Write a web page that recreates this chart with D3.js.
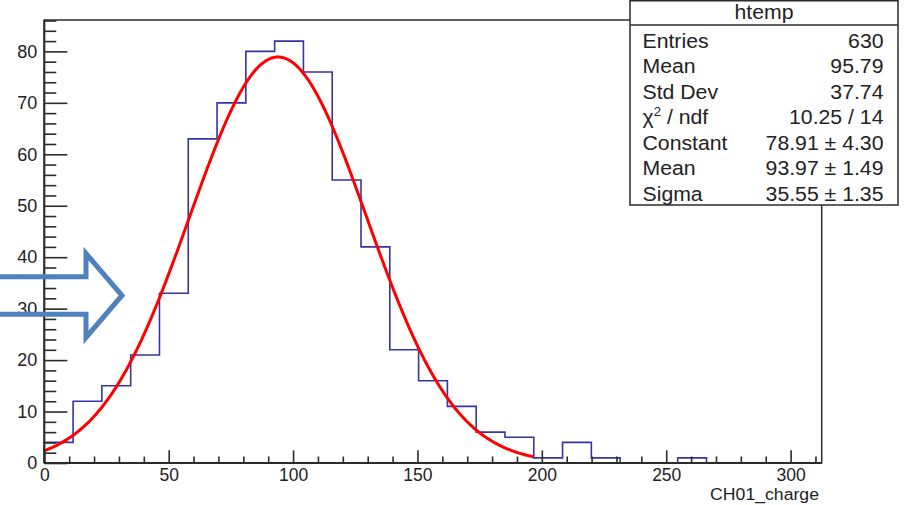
<!DOCTYPE html>
<html>
<head>
<meta charset="utf-8">
<script src="https://cdn.jsdelivr.net/npm/d3@7"></script>
<style>
  html, body { margin: 0; padding: 0; background: #fff; }
  svg { display: block; }
  text { font-family: "Liberation Sans", Arial, Helvetica, sans-serif; fill: #222; }
</style>
</head>
<body>
<svg id="chart" width="905" height="505"></svg>
<script>
// Histogram of CH01_charge: 27 equal bins over [0, 312.5]
const binLow = 0;
const binHigh = 312.5;
const binCounts = [4, 12, 15, 21, 33, 63, 70, 80, 82, 76, 55, 42, 22, 16, 11, 6, 5, 1, 4, 1, 0, 0, 1, 0, 0, 0, 0];

// Gaussian fit result (fit over the first 17 bins)
const fitConstant = 78.91;
const fitMean = 93.97;
const fitSigma = 35.55;
const fitBins = 17;

// Axis ticks
const xMajorTicks = [0, 50, 100, 150, 200, 250, 300];
const yMajorTicks = [0, 10, 20, 30, 40, 50, 60, 70, 80];
const yMax = 86.1;

// Statistics box rows
const statsTitle = "htemp";
const statsLabels = ["Entries", "Mean", "Std Dev", "χ2 / ndf", "Constant", "Mean", "Sigma"];
const statsValues = ["630", "95.79", "37.74", "10.25 / 14", "78.91 ± 4.30", "93.97 ± 1.49", "35.55 ± 1.35"];
const xTitle = "CH01_charge";

const svg = d3.select("#chart");
const frame = { left: 44.3, right: 821.7, top: 20, bottom: 463 };

const x = d3.scaleLinear().domain([binLow, binHigh]).range([frame.left, frame.right]);
const y = d3.scaleLinear().domain([0, yMax]).range([frame.bottom, frame.top]);

const binWidth = (binHigh - binLow) / binCounts.length;
const axisColor = "#2b2b2b";

// Frame
svg.append("rect")
  .attr("x", frame.left).attr("y", frame.top)
  .attr("width", frame.right - frame.left).attr("height", frame.bottom - frame.top)
  .attr("fill", "none").attr("stroke", axisColor).attr("stroke-width", 1.5);

// Histogram outline
const stepPts = [[binLow, 0]];
binCounts.forEach((c, i) => stepPts.push([binLow + i * binWidth, c]));
stepPts.push([binHigh, 0]);
svg.append("path")
  .datum(stepPts)
  .attr("fill", "none")
  .attr("stroke", "#3434a6")
  .attr("stroke-width", 1.6)
  .attr("d", d3.line().x(d => x(d[0])).y(d => y(d[1])).curve(d3.curveStepAfter));

// Fitted Gaussian
const fitEnd = binLow + fitBins * binWidth;
const gauss = v => fitConstant * Math.exp(-0.5 * Math.pow((v - fitMean) / fitSigma, 2));
const fitPts = d3.range(0, 301).map(k => {
  const v = binLow + (fitEnd - binLow) * k / 300;
  return [v, gauss(v)];
});
svg.append("path")
  .datum(fitPts)
  .attr("fill", "none")
  .attr("stroke", "#ff0000")
  .attr("stroke-width", 3)
  .attr("d", d3.line().x(d => x(d[0])).y(d => y(d[1])));

// Y axis: major and minor ticks pointing into the frame
const yMinor = d3.range(0, yMax, 2).filter(v => v % 10 !== 0);
const yAxisG = svg.append("g").attr("transform", `translate(${frame.left},0)`);
yAxisG.call(d3.axisLeft(y).tickValues(yMinor).tickSizeInner(-12).tickSizeOuter(0).tickFormat(""));
yAxisG.call(g => g.selectAll(".tick line").attr("stroke", axisColor).attr("stroke-width", 1.6));
const yMajG = svg.append("g").attr("transform", `translate(${frame.left},0)`);
yMajG.call(d3.axisLeft(y).tickValues(yMajorTicks).tickSizeInner(-23).tickSizeOuter(0).tickPadding(7).tickFormat(d3.format("d")));
yMajG.selectAll(".tick line").attr("stroke", axisColor).attr("stroke-width", 1.6);
yMajG.selectAll(".tick text").attr("font-size", 18).attr("fill", "#222")
  .style("font-family", "'Liberation Sans', Arial, sans-serif");
svg.selectAll(".domain").remove();

// X axis
const xMinor = d3.range(0, binHigh, 10).filter(v => v % 50 !== 0);
const xMinG = svg.append("g").attr("transform", `translate(0,${frame.bottom})`);
xMinG.call(d3.axisBottom(x).tickValues(xMinor).tickSizeInner(-6.5).tickSizeOuter(0).tickFormat(""));
xMinG.selectAll(".tick line").attr("stroke", axisColor).attr("stroke-width", 1.6);
const xMajG = svg.append("g").attr("transform", `translate(0,${frame.bottom})`);
xMajG.call(d3.axisBottom(x).tickValues(xMajorTicks).tickSizeInner(-12.7).tickSizeOuter(0).tickPadding(5.5).tickFormat(d3.format("d")));
xMajG.selectAll(".tick line").attr("stroke", axisColor).attr("stroke-width", 1.6);
xMajG.selectAll(".tick text").attr("font-size", 17.5).attr("fill", "#222")
  .style("font-family", "'Liberation Sans', Arial, sans-serif");
svg.selectAll(".domain").remove();

// Thicker axis lines along the bottom and left edges
svg.append("line").attr("x1", frame.left).attr("x2", frame.right).attr("y1", frame.bottom).attr("y2", frame.bottom)
  .attr("stroke", axisColor).attr("stroke-width", 2);
svg.append("line").attr("x1", frame.left).attr("x2", frame.left).attr("y1", frame.top).attr("y2", frame.bottom)
  .attr("stroke", axisColor).attr("stroke-width", 2);

// X axis title
svg.append("text")
  .attr("transform", `translate(819,499.5) scale(1.07,1)`)
  .attr("text-anchor", "end")
  .attr("font-size", 16.5)
  .text(xTitle);

// Statistics box
const box = { x0: 630, x1: 898, y0: 0.75, y1: 205, head: 25 };
svg.append("rect")
  .attr("x", box.x0).attr("y", box.y0)
  .attr("width", box.x1 - box.x0).attr("height", box.y1 - box.y0)
  .attr("fill", "#fff").attr("stroke", axisColor).attr("stroke-width", 1.5);
svg.append("line")
  .attr("x1", box.x0).attr("x2", box.x1).attr("y1", box.head).attr("y2", box.head)
  .attr("stroke", axisColor).attr("stroke-width", 1.5);

const sx = 1.09;
const statsFont = 19.5;
svg.append("text")
  .attr("transform", `translate(${(box.x0 + box.x1) / 2},19) scale(${sx},1)`)
  .attr("text-anchor", "middle").attr("font-size", statsFont)
  .text(statsTitle);

const rowY = d3.scaleLinear().domain([0, statsLabels.length - 1]).range([47.5, 200.5]);
statsLabels.forEach((lab, i) => {
  const t = svg.append("text")
    .attr("transform", `translate(642.5,${rowY(i)}) scale(${sx},1)`)
    .attr("font-size", statsFont);
  if (lab.startsWith("χ2")) {
    t.append("tspan").text("χ");
    t.append("tspan").attr("font-size", statsFont * 0.62).attr("dy", -8).text("2");
    t.append("tspan").attr("dy", 8).text(" / ndf");
  } else {
    t.text(lab);
  }
  svg.append("text")
    .attr("transform", `translate(883.5,${rowY(i)}) scale(${sx},1)`)
    .attr("text-anchor", "end").attr("font-size", statsFont)
    .text(statsValues[i]);
});

// Callout arrow pointing at the rising edge
svg.append("path")
  .attr("d", "M-6,276.7 H86 V253.5 L122,295.5 L86,337.5 V314.3 H-6")
  .attr("fill", "none")
  .attr("stroke", "#4f81bd")
  .attr("stroke-width", 5)
  .attr("stroke-linejoin", "miter");
</script>
</body>
</html>
